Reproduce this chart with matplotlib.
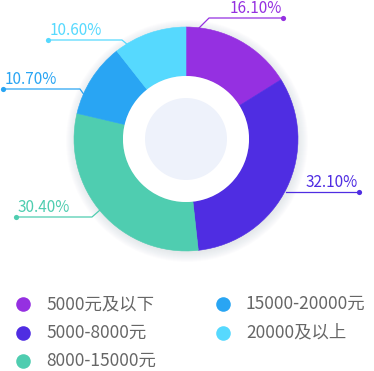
import numpy as np
import matplotlib.pyplot as plt
from matplotlib.patches import Circle

plt.rcParams['font.family'] = ['Noto Sans CJK SC', 'DejaVu Sans']

# salary bands and their shares (%)
bands = ["5000元及以下", "5000-8000元", "8000-15000元", "15000-20000元", "20000及以上"]
shares = [16.1, 32.1, 30.4, 10.7, 10.6]
colors = ["#9530E1", "#4F2DE2", "#4FCDB0", "#29A5F3", "#56D9FE"]

# leader lines in pixel coords: from donut edge to the dot
leaders = [
    [(199, 28), (209, 18), (283, 18)],
    [(286, 192), (359, 192)],
    [(100, 210), (92, 217), (16, 217)],
    [(85, 96), (80, 89), (3, 89)],
    [(128, 45), (122, 40), (48, 40)],
]

W, H = 374, 371
fig = plt.figure(figsize=(W / 100, H / 100), dpi=100)
ax = fig.add_axes([0, 0, 1, 1])

cx, cy, R, r_in = 186, 139, 112, 63

# soft shadow behind the ring
for k in range(10):
    ax.add_patch(Circle((cx + 1, cy + 2), R + 9 - k, color="#8a93b8", alpha=0.018, lw=0, zorder=0))

wedges, _ = ax.pie(shares, colors=colors, radius=R, center=(cx, cy), startangle=-90, counterclock=True,
                   wedgeprops=dict(width=R - r_in, linewidth=0.4), normalize=True)
for w, col in zip(wedges, colors):
    w.set_edgecolor(col)
ax.add_patch(Circle((cx, cy), r_in, color="white", lw=0, zorder=3))
ax.add_patch(Circle((cx, cy), 41, color="#EEF2FB", lw=0, zorder=4))

for val, col, pts in zip(shares, colors, leaders):
    xs, ys = zip(*pts)
    ax.plot(xs, ys, color=col, lw=0.9, zorder=5)
    ax.scatter([xs[-1]], [ys[-1]], s=14, color=col, zorder=6, linewidths=0)
    txt = f"{val:.2f}%"
    if xs[-1] > cx:
        ax.text(xs[-1] - 1, ys[-1] - 5, txt, color=col, fontsize=11, ha="right", va="baseline")
    else:
        ax.text(xs[-1] + 2, ys[-1] - 5, txt, color=col, fontsize=11, ha="left", va="baseline")

# legend, two columns filled top to bottom
for i, (name, col) in enumerate(zip(bands, colors)):
    row, c = i % 3, i // 3
    x0 = 23 + c * 200
    y0 = 304 + row * 28.5
    ax.scatter([x0], [y0], s=110, color=col, linewidths=0, zorder=5)
    ax.text(x0 + 23, y0, name, color="#666666", fontsize=12.5, ha="left", va="center")

ax.set_xlim(0, W)
ax.set_ylim(H, 0)
ax.set_aspect("auto")
ax.axis("off")

fig.savefig("out.png", dpi=100, facecolor="white")
